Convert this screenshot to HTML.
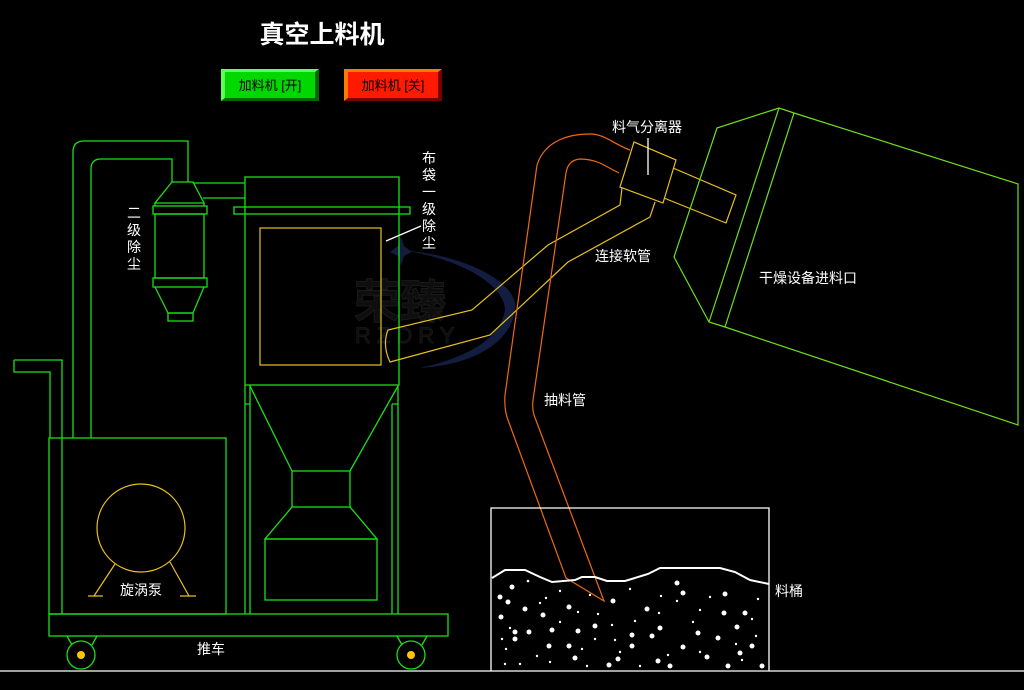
<!DOCTYPE html>
<html><head><meta charset="utf-8"><style>
html,body{margin:0;padding:0;background:#000;width:1024px;height:690px;overflow:hidden}
svg{display:block}
text{font-family:"Liberation Sans","Noto Sans CJK SC",sans-serif;fill:#fff}
</style></head><body>
<svg width="1024" height="690" viewBox="0 0 1024 690" xmlns="http://www.w3.org/2000/svg">
<rect width="1024" height="690" fill="#000"/>
<!-- watermark -->
<g opacity="0.7">
<path d="M400,250 C470,255 520,285 515,310 C510,345 470,365 420,368 C465,358 500,340 505,310 C505,285 460,258 400,250Z" fill="#1b2a5a"/>
<path d="M390,252 l8,-6 l3,-10 l3,10 l8,6 l-8,4 l-3,10 l-3,-10z" fill="#1b2a5a"/>
<text x="354" y="318" font-size="46" font-weight="bold" style="fill:#151515" stroke="#262626" stroke-width="1">荣臻</text>
<text x="355" y="343" font-size="22" font-family="Liberation Serif" style="fill:#101010" stroke="#262626" stroke-width="0.8" letter-spacing="6">RZDRY</text>
</g>
<!-- title -->
<text x="322" y="43" font-size="25" font-weight="bold" text-anchor="middle">真空上料机</text>
<!-- buttons -->
<rect x="221" y="69" width="98" height="32" fill="#00d800"/>
<path d="M221,69 h98 l-4,3 h-90 v26 l-4,3z" fill="#5aff5a"/>
<path d="M319,69 v32 h-98 l4,-3 h90 v-26z" fill="#006a00"/>
<text x="270" y="90" font-size="13" text-anchor="middle" style="fill:#000">加料机 [开]</text>
<rect x="344" y="69" width="98" height="32" fill="#ff1a00"/>
<path d="M344,69 h98 l-4,3 h-90 v26 l-4,3z" fill="#ff7a00"/>
<path d="M442,69 v32 h-98 l4,-3 h90 v-26z" fill="#7a0000"/>
<text x="393" y="90" font-size="13" text-anchor="middle" style="fill:#000">加料机 [关]</text>

<g fill="none" stroke="#19e019" stroke-width="1.3">
<path d="M73,438 V152 Q73,141 84,141 H188 V182"/>
<path d="M91,438 V169 Q91,159 101,159 H172 V182"/>
<path d="M14,360 H62 V438 M14,360 V372 H50 V438"/>
<path d="M172,182 H193 L204,203 H155 Z"/>
<rect x="153" y="206" width="54" height="8"/>
<path d="M155,203 V206 M204,203 V206"/>
<rect x="155" y="214" width="49" height="64"/>
<rect x="153" y="278" width="54" height="9"/>
<path d="M155,287 L168,313 H193 L204,287"/>
<rect x="168" y="313" width="25" height="8"/>
<path d="M193,183 H245 M203,198 H245"/>
<rect x="245" y="177" width="154" height="208"/>
<rect x="234" y="207" width="176" height="7"/>
<path d="M245,385 V614 M250,385 V614 M392,404 V614 M398,385 V614 M245,404 H250 M392,404 H398"/>
<path d="M250,386 L292,471 M398,386 L350,471"/>
<rect x="292" y="471" width="58" height="36"/>
<path d="M292,507 L265,539 H377 L350,507"/>
<rect x="265" y="539" width="112" height="61"/>
<rect x="49" y="438" width="177" height="176"/>
<path d="M62,438 V614"/>
<rect x="49" y="614" width="399" height="22"/>
<circle cx="81" cy="655" r="14"/>
<circle cx="411" cy="655" r="14"/>
<path d="M67,636 L72,645 M97,636 L92,645 M397,636 L402,645 M427,636 L422,645"/>
</g>
<circle cx="81" cy="655" r="4" fill="#ffc400"/>
<circle cx="411" cy="655" r="4" fill="#ffc400"/>
<g fill="none" stroke="#e8c020" stroke-width="1.2">
<rect x="260" y="228" width="121" height="137"/>
<circle cx="141" cy="528" r="44"/>
<path d="M115,564 L94,596 M88,596 H103 M170,562 L189,596 M180,596 H196"/>
<path d="M622,188 L620,205 L548,245 L472,310 L388,330 Q382,345 390,362 L490,335 L568,262 L650,217 L655,202"/>
<path d="M634,142 L676,160 L663,203 L620,187 Z"/>
<path d="M673,168 L736,195 L726,223 L664,198"/>
</g>
<g fill="none" stroke="#ee6a10" stroke-width="1.2">
<path d="M630,150 C615,145 605,134 590,134 C570,134 545,140 537,165 L505,395 Q504,410 508,420 L566,578 L604,601 L534,415 Q532,408 533,400 L566,173 Q568,160 580,159 Q590,159 600,163 L619,173"/>
</g>
<g fill="none" stroke="#6ee01a" stroke-width="1.2">
<path d="M779,108 L717,128 L674,257 L709,322 L725,327 L1018,425 V184 L794,113 Z"/>
<path d="M779,108 L709,322 M794,113 L725,327"/>
</g>
<g fill="none" stroke="#fff" stroke-width="1.3">
<path d="M491,671 V508 H769 V671"/>
<path d="M0,671 H1024"/>
<path d="M492,578 L505,570 L525,570 L540,577 L552,582 L575,580 L582,577 L595,577 L607,581 L625,581 L648,574 L660,568 L720,568 L735,572 L750,580 L769,584" stroke-width="2"/>
<path d="M386,241 L421,226"/>
<path d="M648,138 V175"/>
</g>
<g fill="#fff">
<circle cx="512" cy="587" r="2.5"/><circle cx="528" cy="581" r="1.3"/><circle cx="500" cy="597" r="2.5"/><circle cx="508" cy="602" r="2.5"/><circle cx="525" cy="609" r="2.5"/><circle cx="501" cy="617" r="2.5"/><circle cx="543" cy="615" r="2.5"/><circle cx="569" cy="607" r="2.5"/><circle cx="546" cy="598" r="1.2"/><circle cx="560" cy="591" r="1.2"/><circle cx="515" cy="632" r="2.5"/><circle cx="529" cy="632" r="2.5"/><circle cx="552" cy="630" r="2.5"/><circle cx="578" cy="631" r="2.5"/><circle cx="595" cy="626" r="2.5"/><circle cx="613" cy="601" r="2.5"/><circle cx="647" cy="609" r="2.5"/><circle cx="677" cy="583" r="2.5"/><circle cx="683" cy="593" r="2.5"/><circle cx="659" cy="613" r="1.2"/><circle cx="677" cy="601" r="1.2"/><circle cx="710" cy="597" r="1.2"/><circle cx="725" cy="594" r="2.5"/><circle cx="724" cy="613" r="2.5"/><circle cx="745" cy="613" r="2.5"/><circle cx="737" cy="627" r="2.5"/><circle cx="758" cy="599" r="1.2"/><circle cx="752" cy="619" r="1.2"/><circle cx="698" cy="633" r="2.5"/><circle cx="660" cy="628" r="2.5"/><circle cx="632" cy="635" r="2.5"/><circle cx="612" cy="625" r="1.2"/><circle cx="578" cy="612" r="1.2"/><circle cx="510" cy="628" r="1.2"/><circle cx="506" cy="649" r="1.2"/><circle cx="515" cy="639" r="2.5"/><circle cx="549" cy="646" r="2.5"/><circle cx="569" cy="646" r="2.5"/><circle cx="595" cy="639" r="1.2"/><circle cx="632" cy="646" r="2.5"/><circle cx="652" cy="636" r="2.5"/><circle cx="683" cy="647" r="2.5"/><circle cx="718" cy="638" r="2.5"/><circle cx="752" cy="646" r="2.5"/><circle cx="740" cy="653" r="2.5"/><circle cx="707" cy="657" r="2.5"/><circle cx="658" cy="661" r="2.5"/><circle cx="668" cy="655" r="1.2"/><circle cx="618" cy="659" r="2.5"/><circle cx="575" cy="658" r="2.5"/><circle cx="537" cy="656" r="1.2"/><circle cx="520" cy="664" r="1.2"/><circle cx="505" cy="664" r="1.2"/><circle cx="550" cy="662" r="1.2"/><circle cx="609" cy="665" r="2.5"/><circle cx="670" cy="666" r="2.5"/><circle cx="728" cy="666" r="2.5"/><circle cx="762" cy="666" r="2.5"/><circle cx="742" cy="660" r="1.2"/><circle cx="700" cy="652" r="1.2"/><circle cx="620" cy="652" r="1.2"/><circle cx="582" cy="649" r="1.2"/><circle cx="598" cy="614" r="1.2"/><circle cx="540" cy="603" r="1.2"/><circle cx="560" cy="622" r="1.2"/><circle cx="590" cy="595" r="1.2"/><circle cx="630" cy="589" r="1.2"/><circle cx="661" cy="596" r="1.2"/><circle cx="700" cy="610" r="1.2"/><circle cx="736" cy="644" r="1.2"/><circle cx="756" cy="636" r="1.2"/><circle cx="502" cy="639" r="1.2"/><circle cx="693" cy="622" r="1.2"/><circle cx="635" cy="621" r="1.2"/><circle cx="615" cy="640" r="1.2"/><circle cx="587" cy="666" r="1.2"/><circle cx="640" cy="666" r="1.2"/>
</g>
<g font-size="14">
<text x="141" y="595" text-anchor="middle">旋涡泵</text>
<text x="211" y="654" text-anchor="middle">推车</text>
<text x="647" y="132" text-anchor="middle">料气分离器</text>
<text x="623" y="261" text-anchor="middle">连接软管</text>
<text x="565" y="405" text-anchor="middle">抽料管</text>
<text x="808" y="283" text-anchor="middle">干燥设备进料口</text>
<text x="789" y="596" text-anchor="middle">料桶</text>
<text x="134" y="218" text-anchor="middle">二</text>
<text x="134" y="235" text-anchor="middle">级</text>
<text x="134" y="252" text-anchor="middle">除</text>
<text x="134" y="269" text-anchor="middle">尘</text>
<text x="429" y="163" text-anchor="middle">布</text>
<text x="429" y="180" text-anchor="middle">袋</text>
<text x="429" y="197" text-anchor="middle">一</text>
<text x="429" y="214" text-anchor="middle">级</text>
<text x="429" y="231" text-anchor="middle">除</text>
<text x="429" y="248" text-anchor="middle">尘</text>
</g>
</svg>
</body></html>
